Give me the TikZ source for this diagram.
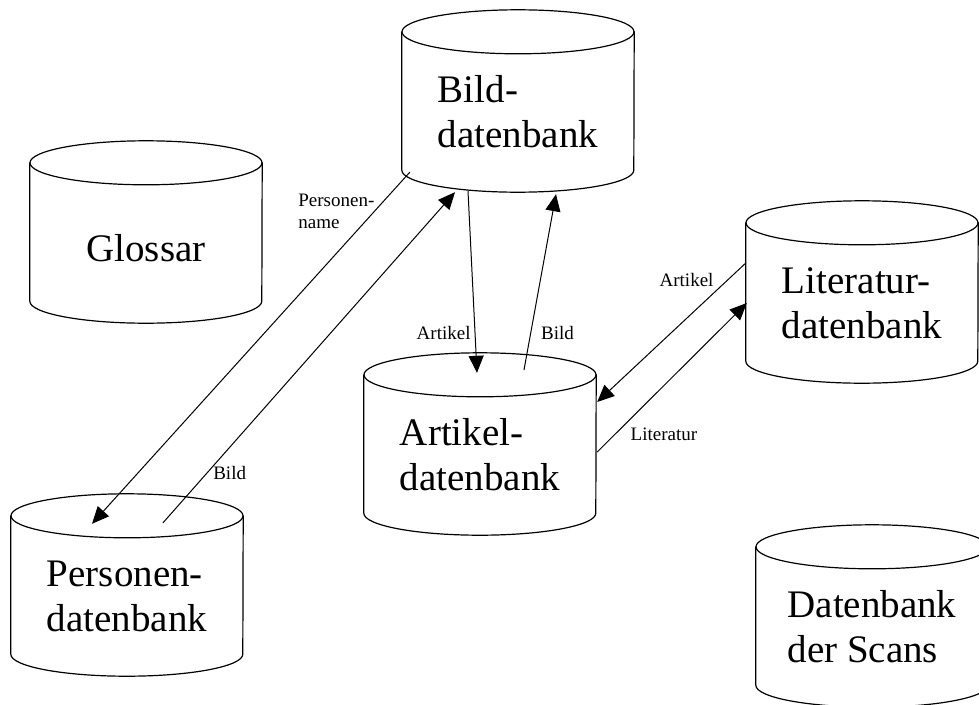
\documentclass[tikz,border=0pt]{standalone}
\usepackage{fontspec}
\setmainfont{Liberation Serif}
\usetikzlibrary{arrows.meta,calc}

\begin{document}
\begin{tikzpicture}[x=1pt, y=-1pt, >={Triangle[length=17pt,width=15pt]}, line cap=round]
   \tikzstyle{db}=[rectangle, draw=none, inner sep=0pt, minimum width=232pt, minimum height=160pt, align=left, font=\fontsize{39}{45}\selectfont]
   \tikzstyle{dbline}=[line width=1.2pt]
   \tikzstyle{lbl}=[inner sep=0pt, align=left, font=\fontsize{19}{22}\selectfont]

   \useasboundingbox (0,0) rectangle (979,704);
   \clip (0,0) rectangle (979,704);

   \node[db, text height=38pt] (glossar) at (146,243) {Glossar};
   \node[db] (bild) at (518,112) {Bild-\\datenbank};
   \node[db] (artikel) at (480,455) {Artikel-\\datenbank};
   \node[db] (literatur) at (862,303) {Literatur-\\datenbank};
   \node[db] (personen) at (127,596) {Personen-\\datenbank};
   \node[db] (scans) at (872,627) {Datenbank\\der Scans};

   % cylinder outlines round the nodes
   \foreach \n in {glossar,bild,artikel,literatur,personen,scans}{
     \draw[dbline] (\n.north) ellipse [x radius=116pt, y radius=22pt];
     \draw[dbline] (\n.north west) -- ($(\n.south west)+(0,-22)$)
       arc [start angle=180, end angle=360, x radius=116pt, y radius=22pt] -- (\n.north east);
   }

   \path[->, line width=1pt]

  ($(bild.south)+(-50,-1)$)
    edge node[lbl, pos=.78, left=4pt] {Artikel} ($(artikel.north)+(-3,-2)$)
  ($(artikel.north)+(44,-5)$)
    edge node[lbl, pos=.21, right=10pt] {Bild} ($(bild.south)+(38,2)$)
  ($(bild.south west)+(8,-20)$)
    edge node[lbl, pos=.11, left=0pt] {Personen-\\name} ($(personen.north)+(-35,8)$)
  ($(personen.north)+(36,7)$)
    edge node[lbl, pos=.15, right=6pt] {Bild} ($(bild.south)+(-63,0)$)
  ($(literatur.west)+(0,-40)$)
    edge node[lbl, pos=.12, left=14pt] {Artikel} ($(artikel.east)+(1,-53)$)
  ($(artikel.east)+(1,-3)$)
    edge node[lbl, pos=.12, right=15pt] {Literatur} ($(literatur.west)+(1,0)$)
   ;
\end{tikzpicture}
\end{document}
